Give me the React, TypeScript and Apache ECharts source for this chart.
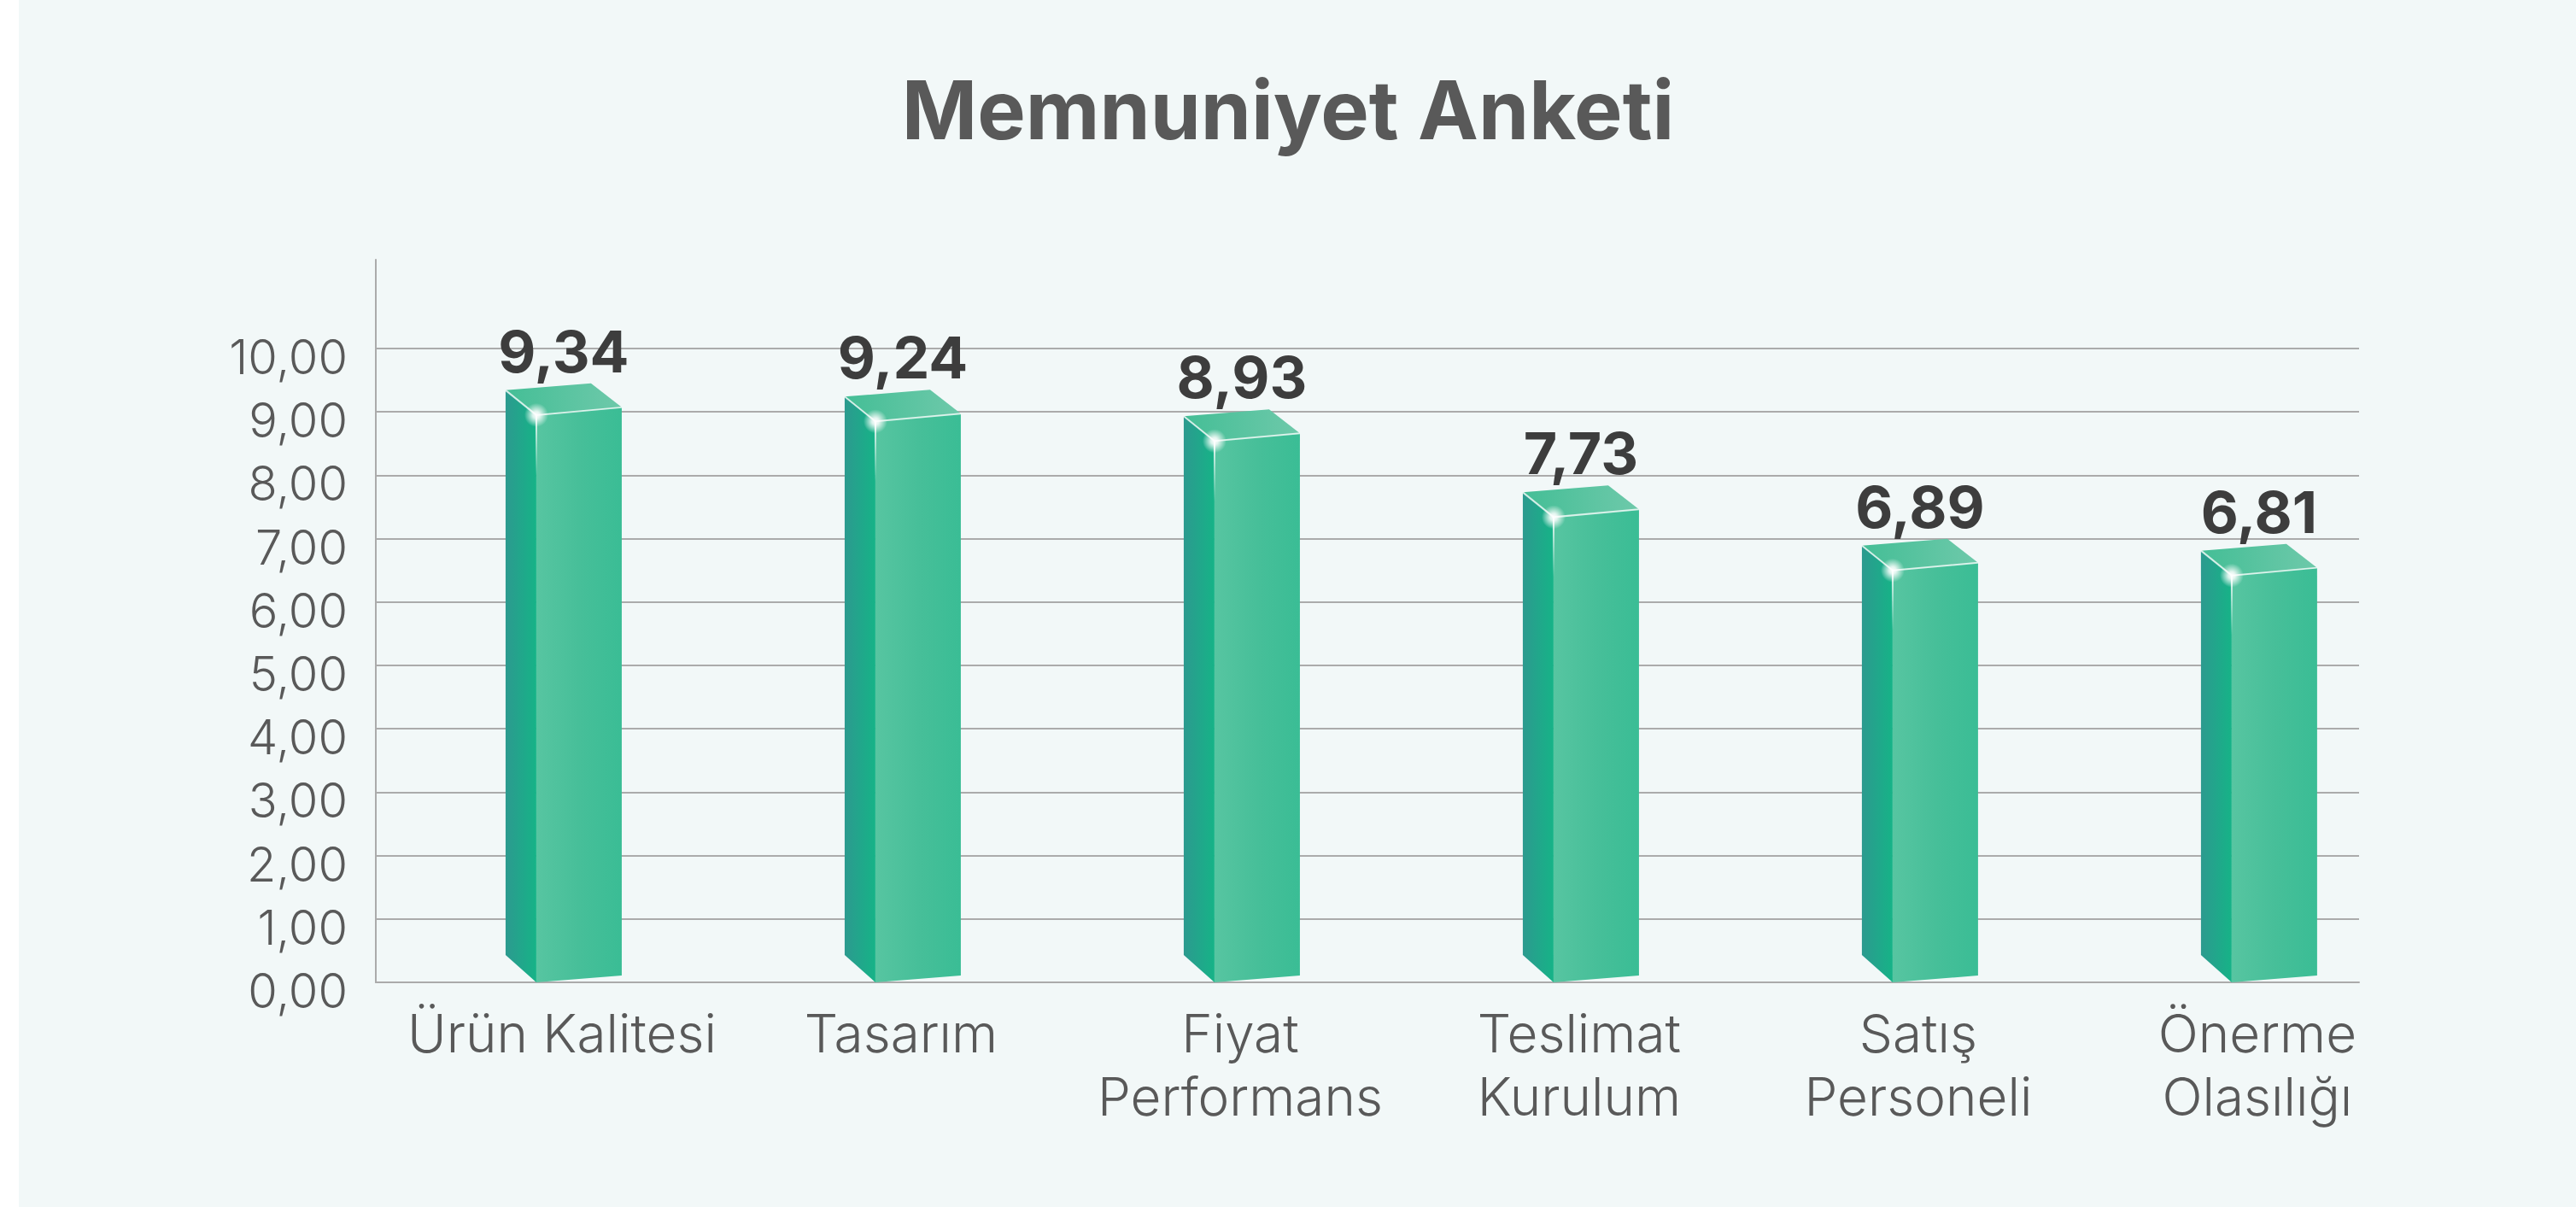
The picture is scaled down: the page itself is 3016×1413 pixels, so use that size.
import React, { useEffect, useRef } from 'react';
import * as echarts from 'echarts';

// ---- data ----
const categories = [
  'Ürün Kalitesi',
  'Tasarım',
  'Fiyat\nPerformans',
  'Teslimat\nKurulum',
  'Satış\nPersoneli',
  'Önerme\nOlasılığı',
];
const scores = [9.34, 9.24, 8.93, 7.73, 6.89, 6.81];
const titleText = 'Memnuniyet Anketi';
const yMin = 0;
const yMax = 11.4;
const yStep = 1;
const yLastLabel = 10;

const fmt = (v: number) => v.toFixed(2).replace('.', ',');

const FONT = 'Inter, "Noto Sans", sans-serif';
const GRID_COLOR = '#ababab';

export default function App() {
  const ref = useRef<HTMLDivElement>(null);

  useEffect(() => {
    const el = ref.current;
    if (!el) return;
    const chart = echarts.init(el, null, { renderer: 'svg' });

    const sideGrad = new echarts.graphic.LinearGradient(0, 0, 1, 0, [
      { offset: 0, color: '#2c9a8f' },
      { offset: 1, color: '#16b387' },
    ]);
    const frontGrad = new echarts.graphic.LinearGradient(0, 0, 1, 0, [
      { offset: 0, color: '#57c5a1' },
      { offset: 0.5, color: '#47bf99' },
      { offset: 1, color: '#3abd95' },
    ]);
    const topGrad = new echarts.graphic.LinearGradient(0, 0, 1, 0, [
      { offset: 0, color: '#44be96' },
      { offset: 1, color: '#6ec9aa' },
    ]);
    const glowGrad = new echarts.graphic.RadialGradient(0.5, 0.5, 0.5, [
      { offset: 0, color: 'rgba(255,255,255,1)' },
      { offset: 0.3, color: 'rgba(255,255,255,0.85)' },
      { offset: 1, color: 'rgba(255,255,255,0)' },
    ]);
    const edgeGrad = new echarts.graphic.LinearGradient(0, 0, 0, 1, [
      { offset: 0, color: 'rgba(255,255,255,0.95)' },
      { offset: 1, color: 'rgba(255,255,255,0)' },
    ]);

    const gridColors = [];
    for (let v = yMin; v <= yMax + 1e-9; v += yStep) {
      gridColors.push(v <= yLastLabel + 1e-9 ? GRID_COLOR : 'rgba(0,0,0,0)');
    }
    gridColors.push('rgba(0,0,0,0)');

    chart.setOption({
      animation: false,
      backgroundColor: 'transparent',
      title: {
        text: titleText,
        left: 'center',
        top: 81,
        padding: 0,
        textStyle: {
          fontFamily: FONT,
          fontWeight: 700,
          fontSize: 95,
          lineHeight: 95,
          color: '#595959',
        },
      },
      grid: {
        left: 440,
        right: 254,
        top: 304,
        bottom: 263,
        containLabel: false,
        outerBoundsMode: 'none',
      },
      xAxis: {
        type: 'value',
        min: -0.549,
        max: 5.3,
        axisLine: { show: true, onZero: false, lineStyle: { color: GRID_COLOR, width: 2 } },
        axisTick: { show: false },
        axisLabel: { show: false },
        splitLine: { show: false },
      },
      yAxis: {
        type: 'value',
        min: yMin,
        max: yMax,
        interval: yStep,
        axisLine: { show: true, onZero: false, lineStyle: { color: GRID_COLOR, width: 2 } },
        axisTick: { show: false },
        axisLabel: {
          formatter: (v: number) => (v > yLastLabel + 1e-9 ? '' : fmt(v)),
          fontFamily: FONT,
          fontWeight: 300,
          fontSize: 56,
          color: '#595959',
          margin: 33,
          verticalAlign: 'top',
          lineHeight: 20,
        },
        splitLine: {
          show: true,
          lineStyle: { color: gridColors, width: 2 },
        },
      },
      series: [
        {
          type: 'custom',
          clip: false,
          data: scores.map((v, i) => [i, v]),
          renderItem: (params: any, api: any) => {
            const i = api.value(0);
            const v = api.value(1);
            const base = api.coord([i, 0]);
            const top = api.coord([i, v]);
            const c = base[0];
            const y0 = base[1];
            const yv = top[1];
            const BL = [c - 66, yv];
            const FL = [c - 30, yv + 29];
            const FR = [c + 70, yv + 20];
            const BR = [c + 34, yv - 8];
            return {
              type: 'group',
              children: [
                {
                  type: 'polygon',
                  shape: { points: [BL, FL, [c - 30, y0], [c - 66, y0 - 32]] },
                  style: { fill: sideGrad },
                },
                {
                  type: 'polygon',
                  shape: { points: [FL, FR, [c + 70, y0 - 8], [c - 30, y0]] },
                  style: { fill: frontGrad },
                },
                {
                  type: 'polygon',
                  shape: { points: [BL, BR, FR, FL] },
                  style: { fill: topGrad },
                },
                {
                  type: 'polyline',
                  shape: { points: [BL, FL, FR] },
                  style: { stroke: 'rgba(255,255,255,0.75)', lineWidth: 2, fill: null },
                },
                {
                  type: 'rect',
                  shape: { x: c - 31, y: yv + 29, width: 2, height: 70 },
                  style: { fill: edgeGrad },
                },
                {
                  type: 'circle',
                  shape: { cx: c - 30, cy: yv + 29, r: 14 },
                  style: { fill: glowGrad },
                },
                {
                  type: 'text',
                  x: c + 2,
                  y: yv - 46,
                  style: {
                    text: fmt(v),
                    fontFamily: FONT,
                    fontWeight: 700,
                    fontSize: 68,
                    fill: '#3d3d3d',
                    align: 'center',
                    verticalAlign: 'middle',
                  },
                },
                {
                  type: 'text',
                  x: c,
                  y: y0 + 22,
                  style: {
                    text: categories[i],
                    fontFamily: FONT,
                    fontWeight: 300,
                    fontSize: 62,
                    lineHeight: 74,
                    fill: '#595959',
                    align: 'center',
                    verticalAlign: 'top',
                  },
                },
              ],
            };
          },
        },
      ],
    });

    return () => chart.dispose();
  }, []);

  return (
    <div
      ref={ref}
      style={{
        position: 'fixed',
        left: 0,
        top: 0,
        width: '100vw',
        height: '100vh',
        background: 'linear-gradient(to right, #ffffff 0px, #ffffff 22px, #f2f8f8 22px, #f2f8f8 100%)',
      }}
    />
  );
}
